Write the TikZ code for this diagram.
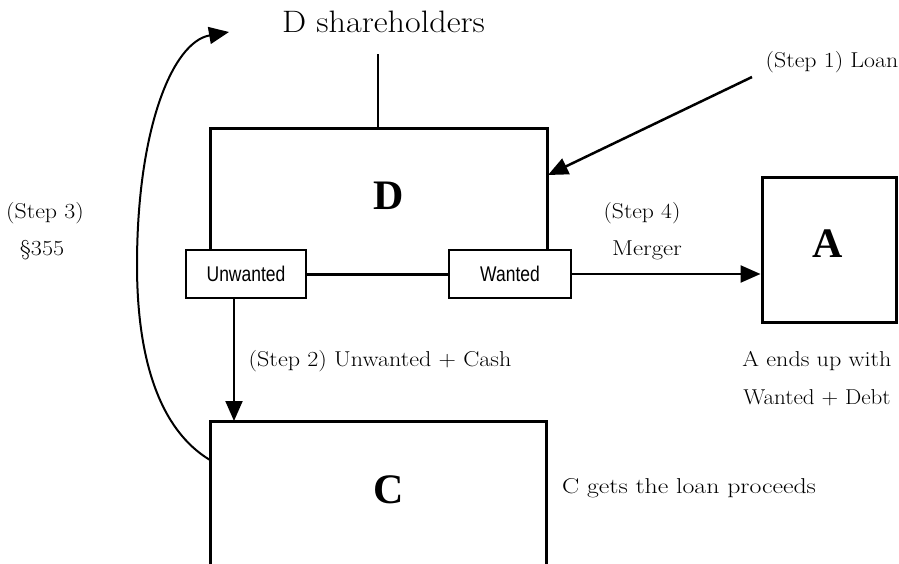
\documentclass[tikz,border=0pt]{standalone}
\usepackage{fontspec}
\usepackage{graphicx}
\usetikzlibrary{arrows.meta}
\newfontfamily\sansf{Liberation Sans}
\newfontfamily\boldserif{Liberation Serif}
\newcommand{\widetxt}[2][1.11]{\scalebox{#1}[1]{#2}}
\begin{document}
\begin{tikzpicture}[x=1pt,y=-1pt,
  thickline/.style={line width=3pt},
  thinline/.style={line width=1.5pt},
  arr/.style={-{Triangle[length=20pt,width=17pt]}},
  lbl/.style={inner sep=0pt, font=\fontsize{21.5}{25}\selectfont},
  big/.style={inner sep=0pt, font=\boldserif\bfseries\fontsize{42}{48}\selectfont},
  smallbox/.style={draw, line width=1.5pt, minimum height=48pt, inner sep=0pt,
    font=\sansf\fontsize{19}{22}\selectfont},
  abox/.style={draw, line width=3pt, minimum width=134pt, minimum height=145pt, inner sep=0pt}
]
\useasboundingbox (0,0) rectangle (899,563);

% title
\node[inner sep=0pt, font=\fontsize{31}{36}\selectfont] (sh) at (383.5,22) {\scalebox{1.1}[1]{D shareholders}};

% D box
\coordinate (Dbl) at (210,250);
\coordinate (Dtl) at (210,128);
\coordinate (Dtr) at (547,128);
\coordinate (Dbr) at (547,250);
\draw[thickline] (Dbl) -- (Dtl) -- (Dtr) -- (Dbr);
\coordinate (shl) at (378,54);
\coordinate (Dtop) at (378,128);
\draw[thinline] (shl) -- (Dtop);
\node[big] (Dlab) at (389,196) {D};

% small boxes
\node[smallbox, minimum width=120pt] (U) at (246,274) {\scalebox{0.92}[1.12]{Unwanted}};
\node[smallbox, minimum width=122pt] (W) at (510,274) {\scalebox{0.92}[1.12]{Wanted}};
\draw[thickline] (U.east) -- (W.west);

% A box
\node[abox] (A) at (829,249.5) {};
\node[big] (Alab) at (828,244) {A};

% C box
\coordinate (Cbl) at (210,566);
\coordinate (Ctl) at (210,421);
\coordinate (Ctr) at (546,421);
\coordinate (Cbr) at (546,566);
\draw[thickline] (Cbl) -- (Ctl) -- (Ctr) -- (Cbr);
\node[big] (Clab) at (389,490) {C};

% Step 1
\coordinate (s1a) at (752,77);
\coordinate (s1b) at (548,175);
\draw[line width=2.5pt, arr] (s1a) -- (s1b);
\node[lbl] (s1) at (832,62) {\widetxt{(Step 1) Loan}};

% Step 2
\coordinate (s2a) at (234,298);
\coordinate (s2b) at (234,421);
\draw[line width=2pt, arr] (s2a) -- (s2b);
\node[lbl] (s2) at (380,361) {\widetxt[1.12]{(Step 2) Unwanted + Cash}};

% Step 3
\coordinate (s3a) at (210,460);
\coordinate (s3b) at (229,32);
\draw[line width=2pt, arr] (s3a) .. controls (160,430) and (137,360) .. (137,265)
   .. controls (137,130) and (172,42) .. (s3b);
\node[lbl] (s3) at (45,213) {\widetxt{(Step 3)}};
\node[lbl] (sec) at (42,250) {\widetxt[1.12]{\S355}};

% Step 4
\draw[line width=2.5pt, arr] (W.east) -- (W.east -| A.west);
\node[lbl] (s4) at (642,213) {\widetxt[1.1]{(Step 4)}};
\node[lbl] (mg) at (647,250) {\widetxt[1.15]{Merger}};

% notes
\node[lbl] (ae) at (817,361) {\widetxt[1.12]{A ends up with}};
\node[lbl] (wd) at (817,398) {\widetxt[1.07]{Wanted + Debt}};
\node[lbl] (cg) at (689,488) {\widetxt[1.2]{C gets the loan proceeds}};
\end{tikzpicture}
\end{document}
